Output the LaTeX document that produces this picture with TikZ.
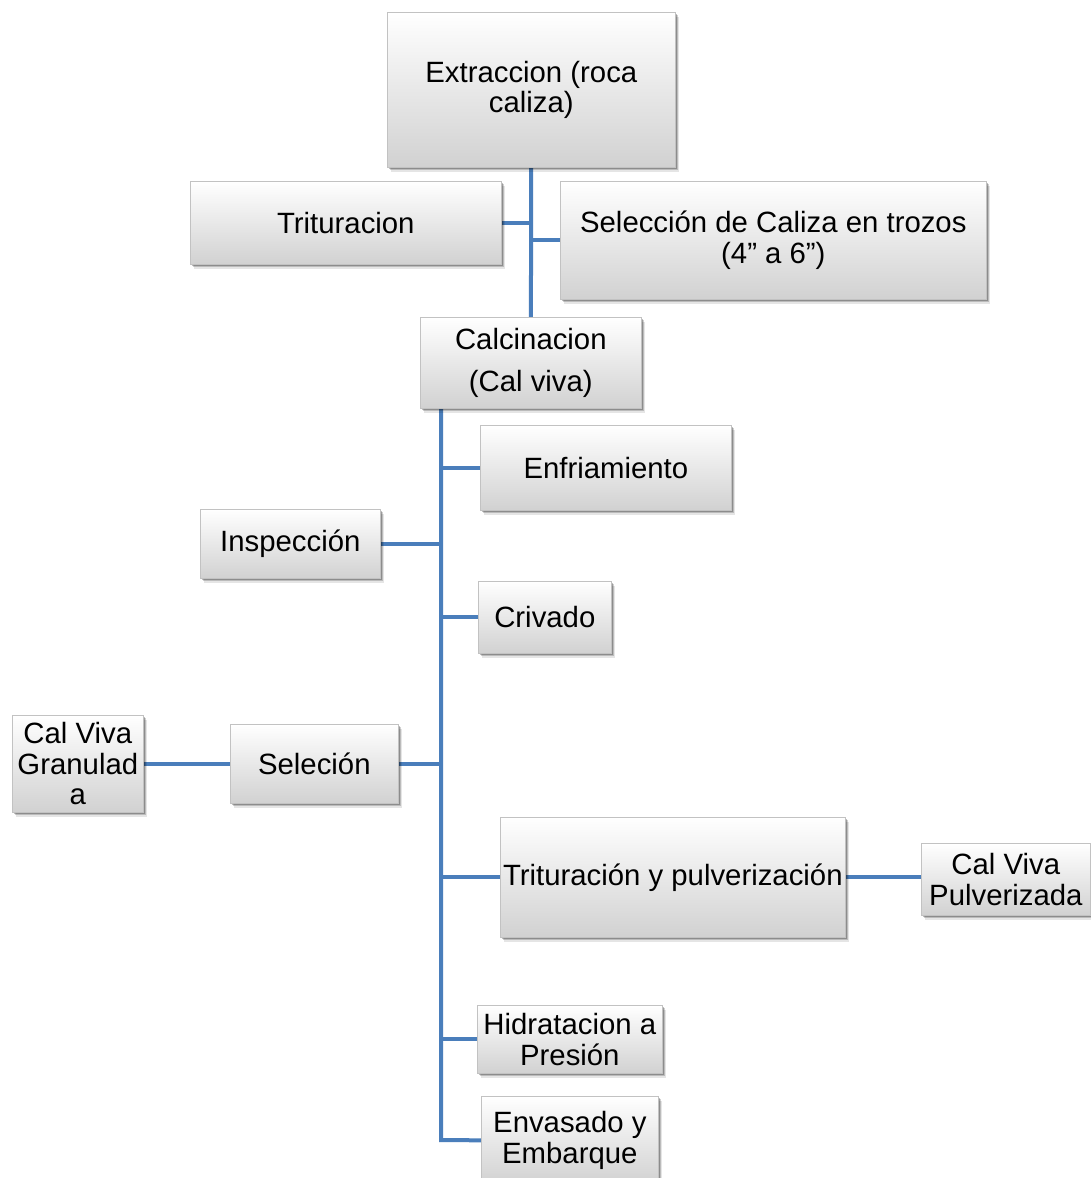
\documentclass[tikz,border=0pt]{standalone}
\usepackage{fontspec}
\setmainfont{Liberation Sans}
\usetikzlibrary{shadows}
\pgfdeclarelayer{bg}
\pgfdeclarelayer{lines}
\pgfsetlayers{bg,lines,main}
\definecolor{linkblue}{HTML}{4A7EBB}
\tikzset{
  box/.style={anchor=north west, inner sep=1pt, align=center,
    top color=white, bottom color=black!18, draw=black!24, line width=0.5pt,
    drop shadow={shadow xshift=2.8pt, shadow yshift=-3.2pt, fill=black, opacity=0.10},
    drop shadow={shadow xshift=1.8pt, shadow yshift=-2.1pt, fill=black, opacity=0.18},
    drop shadow={shadow xshift=0.9pt, shadow yshift=-1.0pt, fill=black, opacity=0.25},
    font=\fontsize{22}{23}\selectfont},
  link/.style={draw=linkblue, line width=3pt, line join=miter}
}
\begin{document}
\begin{tikzpicture}[x=0.75pt, y=-0.75pt]
\begin{pgfonlayer}{bg}
  \fill[white] (0,0) rectangle (1090,1178);
\end{pgfonlayer}
\useasboundingbox (0,0) rectangle (1090,1178);

% process steps
\node[box, minimum width=216pt,   minimum height=116.25pt] (ext)  at (387,12)   {Extraccion (roca\\caliza)};
\node[box, minimum width=233.25pt,minimum height=62.25pt]  (trit) at (190,181)  {Trituracion};
\node[box, minimum width=319.5pt, minimum height=88.5pt]   (sel)  at (560,181)  {Selección de Caliza en trozos\\(4” a 6”)};
\node[box, minimum width=165.75pt,minimum height=68.25pt]  (calc) at (420,317)  {Calcinacion\\[9pt](Cal viva)};
\node[box, minimum width=188.25pt,minimum height=63.75pt]  (enf)  at (480,425)  {Enfriamiento};
\node[box, minimum width=135pt,   minimum height=51.75pt]  (insp) at (200,509)  {Inspección};
\node[box, minimum width=99.75pt, minimum height=54pt]     (criv) at (478,581)  {Crivado};
\node[box, minimum width=98.25pt, minimum height=72.75pt]  (gran) at (12,715)   {Cal Viva\\Granulad\\a};
\node[box, minimum width=126pt,   minimum height=59.25pt]  (selc) at (230,724)  {Seleción};
\node[box, minimum width=258.75pt,minimum height=90pt]     (typ)  at (500,817)  {Trituración y pulverización};
\node[box, minimum width=126.75pt,minimum height=54pt]     (pulv) at (921,843)  {Cal Viva\\Pulverizada};
\node[box, minimum width=138.75pt,minimum height=51pt]     (hid)  at (477,1005) {Hidratacion a\\Presión};
\node[box, minimum width=132.75pt,minimum height=66pt]     (env)  at (481,1096) {Envasado y\\Embarque};

% connectors
\coordinate (spine) at (441,1140);
\begin{pgfonlayer}{lines}
  \draw[link] (ext) -- (calc);
  \draw[link] (trit.east) -- (trit.east -| ext.south);
  \draw[link] (sel.west) -- (sel.west -| ext.south);
  \draw[link] (calc.south -| spine) -- (spine) -- (env.west);
  \draw[link] (enf.west) -- (enf.west -| spine);
  \draw[link] (insp.east) -- (insp.east -| spine);
  \draw[link] (criv.west) -- (criv.west -| spine);
  \draw[link] (selc.east) -- (selc.east -| spine);
  \draw[link] (gran.east) -- (selc.west);
  \draw[link] (typ.west) -- (typ.west -| spine);
  \draw[link] (typ.east) -- (typ.east -| pulv.west);
  \draw[link] (hid.west) -- (hid.west -| spine);
\end{pgfonlayer}
\end{tikzpicture}
\end{document}
